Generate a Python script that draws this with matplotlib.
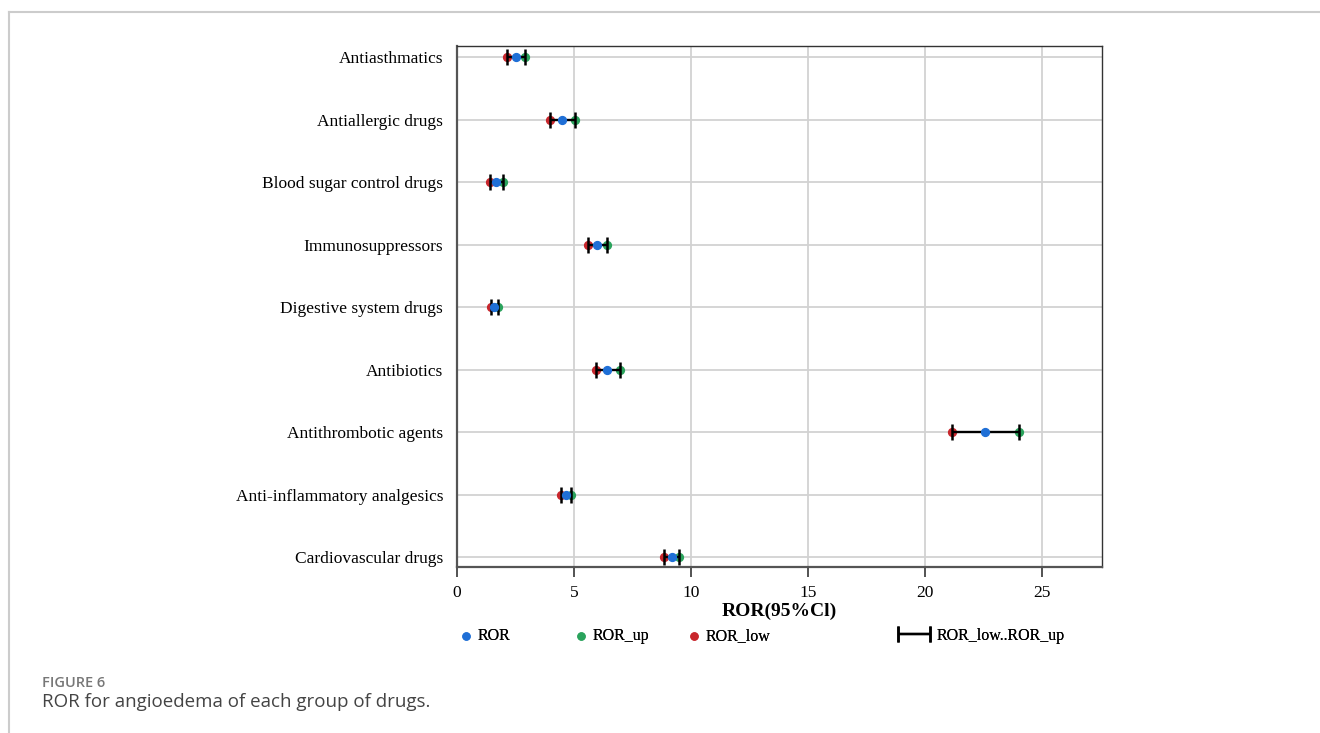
import numpy as np
import matplotlib
matplotlib.use("Agg")
from matplotlib import pyplot as plt
from matplotlib.lines import Line2D
from matplotlib.legend_handler import HandlerErrorbar

# categorias de abajo hacia arriba
drug_groups = ["Cardiovascular drugs", "Anti-inflammatory analgesics", "Antithrombotic agents",
               "Antibiotics", "Digestive system drugs", "Immunosuppressors",
               "Blood sugar control drugs", "Antiallergic drugs", "Antiasthmatics"]
ror = [9.2, 4.65, 22.55, 6.42, 1.6, 6.0, 1.65, 4.5, 2.5]
ror_low = [8.85, 4.45, 21.15, 5.92, 1.45, 5.6, 1.4, 3.97, 2.15]
ror_up = [9.5, 4.88, 24.0, 6.97, 1.75, 6.4, 1.97, 5.02, 2.92]
x_ticks = [0, 5, 10, 15, 20, 25]

W, H = 1320, 733
plt.rcParams['font.family'] = ['Liberation Serif', 'DejaVu Serif']

fig = plt.figure(figsize=(W / 100, H / 100), dpi=100)
ax = fig.add_axes([457 / W, 1 - 567 / H, (1102 - 457) / W, (567 - 46) / H])

y = np.arange(len(drug_groups))
ror = np.array(ror)
ror_low = np.array(ror_low)
ror_up = np.array(ror_up)

h_low = ax.scatter(ror_low, y, s=32, color='#c8262c', zorder=3)
h_up = ax.scatter(ror_up, y, s=32, color='#2aa35c', zorder=3)
h_bar = ax.errorbar(ror, y, xerr=[ror - ror_low, ror_up - ror], fmt='none', ecolor='black',
                    elinewidth=1.7, capsize=6, capthick=1.8, zorder=4)
h_ror = ax.scatter(ror, y, s=32, color='#1f6fd6', zorder=5)

ax.set_xlim(0, 27.55)
ax.set_ylim(-0.16, 8.18)
ax.set_xticks(x_ticks)
ax.set_yticks(y)
ax.set_yticklabels(drug_groups)
ax.tick_params(axis='y', length=0, labelsize=12.5, pad=10)
ax.tick_params(axis='x', length=7, width=1.3, labelsize=12.5, color='#444444', pad=6)
ax.grid(True, color='#d2d2d2', linewidth=1.3)
ax.set_axisbelow(True)
for side in ['left', 'bottom']:
    ax.spines[side].set_color('#555555')
    ax.spines[side].set_linewidth(1.6)
for side in ['top', 'right']:
    ax.spines[side].set_color('#333333')
    ax.spines[side].set_linewidth(1.0)
ax.set_xlabel('ROR(95%Cl)', fontsize=14, fontweight='bold', labelpad=1)

# leyenda: cada entrada en su lugar, como en la figura original
entradas = [(h_ror, 'ROR', 460, 0.8, 0.3),
            (h_up, 'ROR_up', 575, 0.8, 0.3),
            (h_low, 'ROR_low', 688, 0.8, 0.3),
            (h_bar, 'ROR_low..ROR_up', 897, 2.1, 0.35)]
for h, lab, x0, hlen, pad in entradas:
    leg = fig.legend([h], [lab], loc='center left', bbox_to_anchor=(x0 / W, 1 - 636 / H),
                     frameon=False, fontsize=11.5, handlelength=hlen, handletextpad=pad,
                     borderpad=0, borderaxespad=0, markerscale=0.9,
                     handler_map={type(h_bar): HandlerErrorbar(xerr_size=1.0)})
    fig.add_artist(leg)

# marco de la pagina
fig.add_artist(Line2D([9 / W, 1], [1 - 12 / H, 1 - 12 / H], color='#cccccc', lw=1.5))
fig.add_artist(Line2D([9 / W, 9 / W], [0, 1 - 12 / H], color='#cccccc', lw=1.5))

fig.text(42 / W, 1 - 683 / H, 'FIGURE 6', family='Open Sans', fontsize=10.5,
         color='#777777', fontweight='semibold', va='center')
fig.text(42 / W, 1 - 702 / H, 'ROR for angioedema of each group of drugs.',
         family='Open Sans', fontsize=13.5, color='#444444', va='center')

fig.savefig('out.png', dpi=100)
